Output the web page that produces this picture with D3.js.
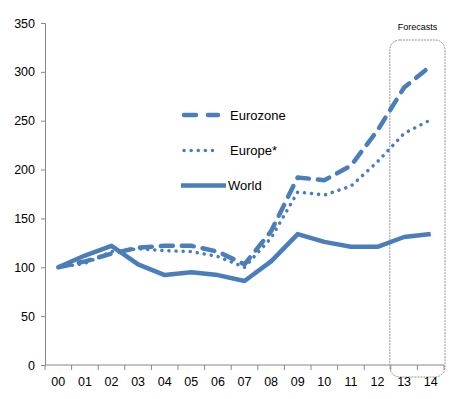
<!DOCTYPE html>
<html>
<head>
<meta charset="utf-8">
<script src="https://cdn.jsdelivr.net/npm/d3@7"></script>
<style>
  body { margin: 0; background: #fff; }
  svg text { font-family: "Liberation Sans", Arial, sans-serif; fill: #000; }
</style>
</head>
<body>
<svg id="chart"></svg>
<script>
const width = 476;
const height = 399;

// data
const years = ["00","01","02","03","04","05","06","07","08","09","10","11","12","13","14"];
const eurozone = [100, 106, 114, 120, 122, 122, 116, 103, 137, 192, 189, 204, 240, 284, 306];
const europe = [100, 104, 116, 119, 117, 116, 111, 100, 130, 177, 174, 183, 208, 237, 251];
const world = [100, 112, 122, 103, 92, 95, 92, 86, 106, 134, 126, 121, 121, 131, 134];
const yTicks = [0, 50, 100, 150, 200, 250, 300, 350];
const forecastYears = ["13", "14"];

const series = [
  {name: "Eurozone", values: eurozone, dash: "12,9", width: 4.5, cap: "round"},
  {name: "Europe*", values: europe, dash: "0.1,7", width: 3.5, cap: "round"},
  {name: "World", values: world, dash: null, width: 4.5, cap: "butt"}
];

const margin = {left: 45, right: 32, top: 23, bottom: 34};
const color = "#4a7ebb";
const axisColor = "#888";

const svg = d3.select("#chart")
  .attr("width", width)
  .attr("height", height);

const x = d3.scaleBand()
  .domain(years)
  .range([margin.left, width - margin.right]);

const y = d3.scaleLinear()
  .domain([0, 350])
  .range([height - margin.bottom, margin.top]);

// forecast box (behind lines)
const fx0 = x(forecastYears[0]) - 1;
const fx1 = x(forecastYears[forecastYears.length - 1]) + x.bandwidth() + 1;
svg.append("rect")
  .attr("x", fx0)
  .attr("y", 40)
  .attr("width", fx1 - fx0)
  .attr("height", y(0) + 12 - 40)
  .attr("rx", 10)
  .attr("fill", "none")
  .attr("stroke", "#777")
  .attr("stroke-width", 0.8)
  .attr("stroke-dasharray", "2,1");

svg.append("text")
  .attr("x", (fx0 + fx1) / 2)
  .attr("y", 30)
  .attr("text-anchor", "middle")
  .attr("font-size", 9)
  .text("Forecasts");

// y axis
const yAxis = svg.append("g")
  .attr("transform", `translate(${margin.left},0)`)
  .call(d3.axisLeft(y).tickValues(yTicks).tickSize(4).tickPadding(6));
yAxis.selectAll("text").attr("font-size", 12.5);

// x axis: ticks at category boundaries
const xAxis = svg.append("g")
  .attr("transform", `translate(0,${y(0)})`);
xAxis.append("line")
  .attr("x1", margin.left).attr("x2", width - margin.right)
  .attr("stroke", axisColor);
xAxis.selectAll("line.tick")
  .data(years.concat(["end"]))
  .enter().append("line")
  .attr("class", "tick")
  .attr("x1", d => d === "end" ? width - margin.right : x(d))
  .attr("x2", d => d === "end" ? width - margin.right : x(d))
  .attr("y1", 0).attr("y2", 5)
  .attr("stroke", axisColor);
xAxis.selectAll("text")
  .data(years)
  .enter().append("text")
  .attr("x", d => x(d) + x.bandwidth() / 2)
  .attr("y", 21)
  .attr("text-anchor", "middle")
  .attr("font-size", 12.5)
  .text(d => d);

yAxis.select(".domain").attr("stroke", axisColor);
yAxis.selectAll(".tick line").attr("stroke", axisColor);

// lines
const line = d3.line()
  .x((d, i) => x(years[i]) + x.bandwidth() / 2)
  .y(d => y(d));

series.forEach(s => {
  svg.append("path")
    .datum(s.values)
    .attr("d", line)
    .attr("fill", "none")
    .attr("stroke", color)
    .attr("stroke-width", s.width)
    .attr("stroke-linecap", s.cap)
    .attr("stroke-linejoin", "round")
    .attr("stroke-dasharray", s.dash);
});

// legend
const legendY = [115, 150.5, 185.5];
series.forEach((s, i) => {
  const g = svg.append("g").attr("transform", `translate(0,${legendY[i]})`);
  g.append("line")
    .attr("x1", s.dash ? 184 : 181).attr("x2", s.dash ? 218 : 226)
    .attr("stroke", color)
    .attr("stroke-width", s.width)
    .attr("stroke-linecap", s.cap)
    .attr("stroke-dasharray", s.name === "Eurozone" ? "12,12" : s.dash);
  g.append("text")
    .attr("x", s.name === "World" ? 228 : 230)
    .attr("y", 4.5)
    .attr("font-size", 13)
    .text(s.name);
});
</script>
</body>
</html>
